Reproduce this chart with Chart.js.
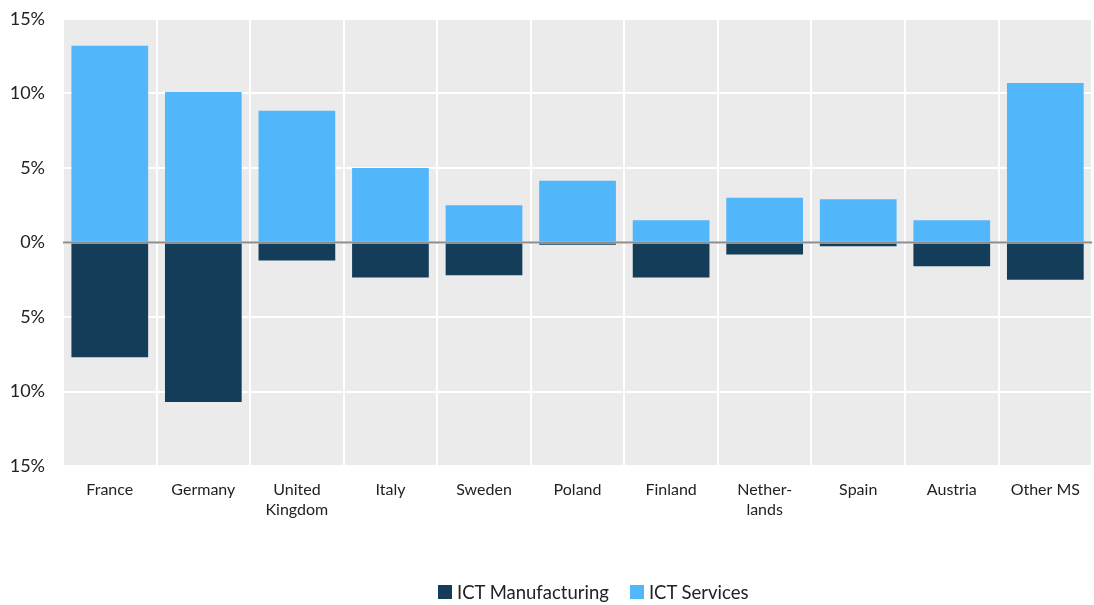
<!DOCTYPE html>
<html>
<head>
<meta charset="utf-8">
<script src="https://cdn.jsdelivr.net/npm/chart.js@4.4.1/dist/chart.umd.min.js"></script>
<style>
  html, body { margin: 0; padding: 0; background: #fff; }
  #wrap { width: 1094px; height: 605px; position: relative; }
  #legend {
    position: absolute; left: 438px; top: 581px; height: 22px;
    display: flex; align-items: center;
    font-family: Lato, sans-serif; font-size: 18.5px; color: #222;
  }
  #legend .item { display: flex; align-items: center; margin-right: 21px; }
  #legend .swatch { width: 14px; height: 14px; margin-right: 5px; }
</style>
</head>
<body>
<div id="wrap">
  <canvas id="ictChart"></canvas>
  <div id="legend"></div>
</div>
<script>
const COUNTRIES = ['France', 'Germany', ['United', 'Kingdom'], 'Italy', 'Sweden', 'Poland', 'Finland', ['Nether-', 'lands'], 'Spain', 'Austria', 'Other MS'];
const ICT_MANUFACTURING = [-7.7, -10.7, -1.2, -2.35, -2.2, -0.15, -2.35, -0.8, -0.25, -1.6, -2.5];
const ICT_SERVICES = [13.2, 10.1, 8.85, 5.0, 2.5, 4.15, 1.5, 3.0, 2.9, 1.5, 10.7];
const Y_TICKS = [-15, -10, -5, 0, 5, 10, 15];

// grey plot background
const plotBackground = {
    id: 'plotBackground',
    beforeDraw(chart) {
        const { ctx, chartArea } = chart;
        ctx.save();
        ctx.fillStyle = '#ebebeb';
        ctx.fillRect(chartArea.left, chartArea.top, chartArea.right - chartArea.left, chartArea.bottom - chartArea.top);
        ctx.restore();
    }
};

// zero line drawn over the bars
const zeroLine = {
    id: 'zeroLine',
    afterDatasetsDraw(chart) {
        const { ctx, chartArea, scales } = chart;
        const y = scales.y.getPixelForValue(0);
        ctx.save();
        ctx.strokeStyle = '#8c8c8c';
        ctx.lineWidth = 2;
        ctx.beginPath();
        ctx.moveTo(chartArea.left, y);
        ctx.lineTo(chartArea.right, y);
        ctx.stroke();
        ctx.restore();
    }
};

const ctx = document.getElementById('ictChart').getContext('2d');
const chart = new Chart(ctx, {
    type: 'bar',
    data: {
        labels: COUNTRIES,
        datasets: [
            {
                label: 'ICT Manufacturing',
                data: ICT_MANUFACTURING,
                backgroundColor: '#143d59',
                categoryPercentage: 1,
                barPercentage: 0.82
            },
            {
                label: 'ICT Services',
                data: ICT_SERVICES,
                backgroundColor: '#52b6fb',
                categoryPercentage: 1,
                barPercentage: 0.82
            }
        ]
    },
    options: {
        responsive: true,
        maintainAspectRatio: false,
        animation: false,
        layout: {
            padding: { top: 19, right: 0, left: 0, bottom: 0 }
        },
        plugins: {
            legend: { display: false }, // custom HTML legend below
            tooltip: { enabled: false }
        },
        scales: {
            x: {
                stacked: true,
                grid: {
                    color: '#ffffff',
                    lineWidth: 2,
                    drawTicks: false,
                    offset: true
                },
                border: { display: false },
                ticks: {
                    color: '#222',
                    font: { family: 'Lato', size: 16, lineHeight: 1.25 },
                    padding: 14,
                    maxRotation: 0,
                    autoSkip: false
                },
                afterFit(scale) {
                    scale.height = 139;
                }
            },
            y: {
                stacked: true,
                min: -15,
                max: 15,
                afterBuildTicks(scale) {
                    scale.ticks = Y_TICKS.map(v => ({ value: v }));
                },
                grid: {
                    color: '#ffffff',
                    lineWidth: 2,
                    drawTicks: false
                },
                border: { display: false },
                ticks: {
                    color: '#222',
                    font: { family: 'Lato', size: 18 },
                    padding: 18,
                    callback: function (value) {
                        return Math.abs(value) + '%';
                    }
                },
                afterFit(scale) {
                    scale.width = 63;
                    scale.paddingTop = 0;
                    scale.paddingBottom = 0;
                }
            }
        }
    },
    plugins: [plotBackground, zeroLine]
});

// legend built from the chart's datasets
const legendEl = document.getElementById('legend');
chart.data.datasets.forEach(ds => {
    const item = document.createElement('div');
    item.className = 'item';
    const sw = document.createElement('span');
    sw.className = 'swatch';
    sw.style.background = ds.backgroundColor;
    const txt = document.createElement('span');
    txt.textContent = ds.label;
    item.appendChild(sw);
    item.appendChild(txt);
    legendEl.appendChild(item);
});
</script>
</body>
</html>
